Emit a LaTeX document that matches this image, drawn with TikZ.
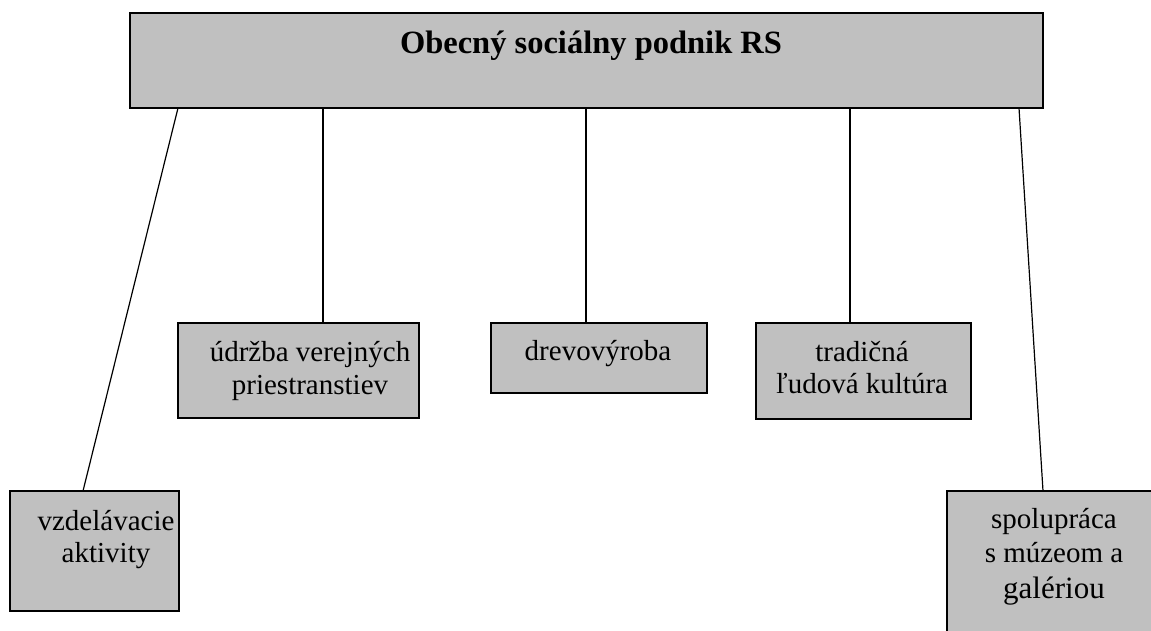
\documentclass[tikz,border=0pt]{standalone}
\usepackage{fontspec}
\setmainfont{Liberation Serif}
\usetikzlibrary{calc}
\definecolor{boxgray}{HTML}{C0C0C0}
\begin{document}
\begin{tikzpicture}[x=1pt,y=-1pt,
  box/.style={draw=black,fill=boxgray,line width=1.4pt,anchor=north west,inner sep=0pt,outer sep=0pt},
  lbl/.style={anchor=base,inner sep=0pt,font=\fontsize{29}{34}\selectfont},
  ttl/.style={anchor=base,inner sep=0pt,font=\fontsize{32.5}{36}\selectfont\bfseries},
  conn/.style={draw=black,line width=1.2pt}]
\useasboundingbox (0,0) rectangle (1151,630);
\clip (0,0) rectangle (1151,630);
% boxes
\node[box,minimum width=913pt,minimum height=95pt] (top) at (130,13) {};
\node[box,minimum width=169pt,minimum height=120pt] (b1) at (10,491) {};
\node[box,minimum width=241pt,minimum height=95pt] (b2) at (178,323) {};
\node[box,minimum width=216pt,minimum height=70pt] (b3) at (491,323) {};
\node[box,minimum width=215pt,minimum height=96pt] (b4) at (756,323) {};
\node[box,minimum width=213pt,minimum height=160pt] (b5) at (947,491) {};
% texts
\node[ttl] (t0) at (591,53) {Obecný sociálny podnik RS};
\node[lbl] (t1a) at (106,530) {vzdelávacie};
\node[lbl] (t1b) at (106,562) {aktivity};
\node[lbl] (t2a) at (310,361) {údržba verejných};
\node[lbl] (t2b) at (310,394) {priestranstiev};
\node[lbl] (t3a) at (598,360) {drevovýroba};
\node[lbl] (t4a) at (862,361) {tradičná};
\node[lbl] (t4b) at (862,393) {ľudová kultúra};
\node[lbl] (t5a) at (1054,528) {spolupráca};
\node[lbl] (t5b) at (1054,562) {s múzeom a};
\node[lbl,font=\fontsize{31}{36}\selectfont] (t5c) at (1054,598) {galériou};
% connectors
\draw[conn] ($(top.south west)+(48,0)$) -- ($(b1.north west)+(73,0)$);
\draw[conn] (top.south -| 323,0) -- (b2.north -| 323,0);
\draw[conn] (top.south -| 586,0) -- (b3.north -| 586,0);
\draw[conn] (top.south -| 850,0) -- (b4.north -| 850,0);
\draw[conn] ($(top.south west)+(889,0)$) -- ($(b5.north west)+(96,0)$);
\end{tikzpicture}
\end{document}
